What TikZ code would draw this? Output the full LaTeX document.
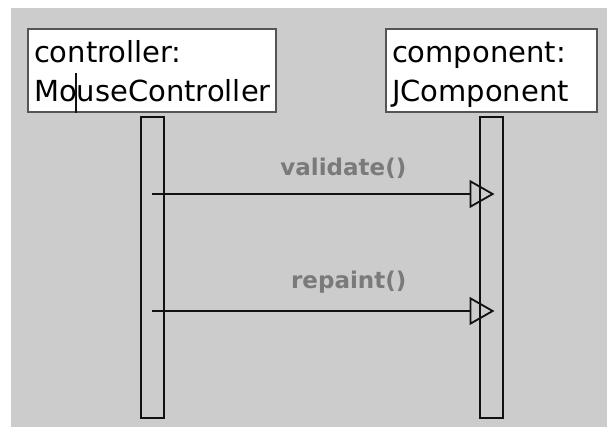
\documentclass[tikz,border=0pt]{standalone}
\usepackage{fontspec}
\usepackage{xcolor}
\usepackage{tikz}
\usetikzlibrary{arrows.meta,positioning,calc}
\newfontfamily\dlgfont{DejaVu Sans}
\definecolor{pn}{HTML}{CCCCCC}
\definecolor{fr}{HTML}{555555}
\definecolor{ln}{HTML}{111111}
\definecolor{mt}{HTML}{7A7A7A}
\newcommand{\Caret}{\rlap{\kern-2pt\textcolor{ln}{\rule[-11pt]{2pt}{40pt}}}}

\begin{document}
\begin{tikzpicture}[x=1pt,y=-1pt,
    objbox/.style={draw=fr, line width=2pt, fill=white, anchor=north west,
      inner xsep=6pt, inner ysep=0pt, align=left, text height=34pt, text depth=49pt,
      font=\dlgfont\fontsize{29}{39}\selectfont},
    lifebar/.style={draw=ln, line width=2pt, minimum width=23pt, minimum height=301pt,
      inner sep=0pt, anchor=north},
    msg/.style={draw=ln, line width=1.8pt, -{Triangle[open, length=25pt, width=28pt, line width=1.8pt]}},
    msglabel/.style={text=mt, anchor=base east, inner sep=0pt,
      font=\dlgfont\bfseries\fontsize{23}{23}\selectfont}]
  \useasboundingbox (0,0) rectangle (607,427);
  \fill[pn] (11,8) rectangle (607,427);
  % objects
  \node[objbox, text width=236pt] (ctrl) at (27,28) {controller:\\Mo\Caret useController};
  \node[objbox, text width=199pt] (comp) at (385,28) {component:\\JComponent};
  % lifelines
  \node[lifebar, below=3pt of ctrl] (ctrlbar) {};
  \node[lifebar, below=3pt of comp] (compbar) {};
  % messages
  \draw[msg] ($(ctrlbar.north)+(0,78)$) -- ($(compbar.north)+(3,78)$);
  \node[msglabel] (validate) at ($(compbar.north)+(-85,60)$) {validate()};
  \draw[msg] ($(ctrlbar.north)+(0,195)$) -- ($(compbar.north)+(3,195)$);
  \node[msglabel] (repaint) at ($(compbar.north)+(-85,173)$) {repaint()};
\end{tikzpicture}
\end{document}
